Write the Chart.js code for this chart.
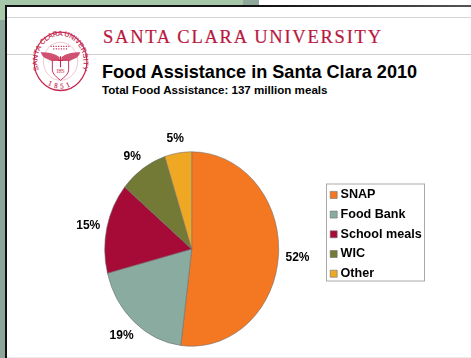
<!DOCTYPE html>
<html>
<head>
<meta charset="utf-8">
<title>Food Assistance in Santa Clara 2010</title>
<script src="https://cdn.jsdelivr.net/npm/chart.js@4"></script>
<style>
  html, body { margin: 0; padding: 0; background: #fff; }
  #stage { position: relative; width: 471px; height: 358px; overflow: hidden; background: #fff; font-family: "Liberation Sans", Arial, sans-serif; }
  #stage > * { position: absolute; }
  canvas { left: 0; top: 0; }
  .band { display: block; }
  h1, h2 { margin: 0; font-weight: bold; color: #000; white-space: nowrap; }
  h1 { left: 102px; top: 61px; font-size: 18.1px; line-height: 22px; }
  h2 { left: 102px; top: 82px; font-size: 11.6px; line-height: 15px; }
</style>
</head>
<body>
<div id="stage">
  <!-- window backdrop and slide frame -->
  <div class="band" style="left:0;top:0;width:243px;height:5px;background:#a6c8a9"></div>
  <div class="band" style="left:243px;top:0;width:16px;height:5px;background:#90a899"></div>
  <div class="band" style="left:0;top:0;width:5px;height:20px;background:#a6c8a9"></div>
  <div class="band" style="left:0;top:20px;width:5px;height:338px;background:#8ea698"></div>
  <div class="band" style="left:5px;top:5px;width:466px;height:2px;background:linear-gradient(90deg,#111 0,#111 55%,#555 100%)"></div>
  <div class="band" style="left:5px;top:5px;width:2px;height:353px;background:#111"></div>
  <div class="band" style="left:7px;top:17px;width:464px;height:1px;background:#d4d4d4"></div>
  <div class="band" style="left:7px;top:54px;width:464px;height:1px;background:#cfcfcf"></div>
  <div class="band" style="left:7px;top:357px;width:464px;height:1px;background:#ececec"></div>

  <!-- university wordmark and seal -->
  <svg style="left:0;top:0" width="471" height="110" viewBox="0 0 471 110">
    <text x="103" y="43" textLength="278" lengthAdjust="spacing" font-family="Liberation Serif, serif" font-size="18.5" fill="#b8173f" stroke="#b8173f" stroke-width="0.2">SANTA CLARA UNIVERSITY</text>
    <g transform="translate(60.5 61.3) scale(0.905 1)" fill="none" stroke="#c5264f">
      <circle r="29.2" fill="#fff" stroke-width="1.3"/>
      <circle r="19" stroke-width="0.5" stroke="#e08aa0"/>
      <defs>
        <path id="sealTop" d="M -22.2 12.6 A 25.5 25.5 0 1 1 22.2 12.6"/>
        <path id="sealBottom" d="M -16 22 A 27 27 0 0 0 16 22"/>
      </defs>
      <text font-family="Liberation Sans, sans-serif" font-size="7.4" fill="#c5264f" stroke="#c5264f" stroke-width="0.15"><textPath href="#sealTop" startOffset="50%" text-anchor="middle" textLength="98" lengthAdjust="spacing">SANTA CLARA UNIVERSITY</textPath></text>
      <text font-family="Liberation Serif, serif" font-size="7.4" fill="#c5264f" stroke="#c5264f" stroke-width="0.15" letter-spacing="3.6"><textPath href="#sealBottom" startOffset="50%" text-anchor="middle">1851</textPath></text>
      <path d="M -1 -4 C -6 -8 -14 -9 -22 -9 C -20 -5 -18 -3 -14 -2 C -12 -1 -9 0 -7 1 L -1 0 Z" fill="#c5264f" stroke="none" opacity="0.8"/>
      <path d="M 1 -4 C 6 -8 14 -9 22 -9 C 20 -5 18 -3 14 -2 C 12 -1 9 0 7 1 L 1 0 Z" fill="#c5264f" stroke="none" opacity="0.8"/>
      <path d="M -9 -1 H 9 V 8 C 9 13 4 16 0 19 C -4 16 -9 13 -9 8 Z" fill="#fff" stroke-width="1"/>
      <path d="M 0 -5 V 6 M -2.5 -1 H 2.5" stroke-width="1.2"/>
      <text x="0" y="11.5" text-anchor="middle" font-family="Liberation Serif, serif" font-size="5.5" fill="#c5264f" stroke="none">IHS</text>
      <path d="M -11 -15 H 11 M -8 -12.5 H 8" stroke-width="1.3" stroke-dasharray="1.2 1.6"/>
    </g>
  </svg>

  <h1>Food Assistance&nbsp;in Santa Clara 2010</h1>
  <h2>Total Food Assistance: 137 million meals</h2>

  <canvas id="pie" width="471" height="358"></canvas>
</div>

<script>
// Share of meals by programme, in percent
const categories = ["SNAP", "Food Bank", "School meals", "WIC", "Other"];
const shares = [52, 19, 15, 9, 5];
const sliceColors = ["#f47721", "#8aab9f", "#a60b38", "#737a35", "#efa824"];

// The pie is drawn as an upright ellipse, narrower than it is tall
const PIE_X_SCALE = 0.895;
const labelFont = 'bold 12px "Liberation Sans", Arial, sans-serif';

// Squeezes the slices horizontally around the pie centre
const ellipsePie = {
  id: "ellipsePie",
  beforeDatasetsDraw(chart) {
    const arc = chart.getDatasetMeta(0).data[0];
    const { ctx } = chart;
    ctx.save();
    ctx.translate(arc.x, arc.y);
    ctx.scale(PIE_X_SCALE, 1);
    ctx.translate(-arc.x, -arc.y);
  },
  afterDatasetsDraw(chart) {
    chart.ctx.restore();
  }
};

// Percentage labels just outside each slice
const sliceLabels = {
  id: "sliceLabels",
  afterDraw(chart) {
    const { ctx } = chart;
    ctx.save();
    ctx.font = labelFont;
    ctx.fillStyle = "#000";
    ctx.textAlign = "center";
    ctx.textBaseline = "middle";
    chart.getDatasetMeta(0).data.forEach((arc, i) => {
      const mid = (arc.startAngle + arc.endAngle) / 2;
      const x = arc.x + Math.cos(mid) * (arc.outerRadius * PIE_X_SCALE + 19);
      const y = arc.y + Math.sin(mid) * (arc.outerRadius + 16) + 1.5;
      ctx.fillText(shares[i] + "%", x, y);
    });
    ctx.restore();
  }
};

// Moves the legend beside the pie and draws its grey frame
const legendFrame = {
  id: "legendFrame",
  afterLayout(chart) {
    const legend = chart.legend;
    legend.left = 326.1;
    legend.right = 425;
    legend.top = 181.5;
    legend.bottom = 320;
  },
  afterDraw(chart) {
    const { ctx } = chart;
    ctx.save();
    ctx.strokeStyle = "#a9a9a9";
    ctx.lineWidth = 1;
    ctx.strokeRect(326.5, 184, 98, 97);
    ctx.restore();
  }
};

new Chart(document.getElementById("pie"), {
  type: "pie",
  data: {
    labels: categories,
    datasets: [{
      data: shares,
      backgroundColor: sliceColors,
      borderColor: "#6e6e6e",
      borderWidth: 0.6
    }]
  },
  options: {
    responsive: false,
    animation: false,
    devicePixelRatio: 1,
    layout: { padding: { top: 151.5, bottom: 11.5, left: 64, right: 46 } },
    plugins: {
      tooltip: { enabled: false },
      legend: {
        position: "right",
        align: "start",
        labels: {
          color: "#000",
          font: { family: '"Liberation Sans", Arial, sans-serif', size: 12.6, weight: "bold" },
          usePointStyle: true,
          pointStyle: "rect",
          boxWidth: 1,
          boxHeight: 7,
          padding: 7.1
        }
      }
    }
  },
  plugins: [ellipsePie, sliceLabels, legendFrame]
});
</script>
</body>
</html>
